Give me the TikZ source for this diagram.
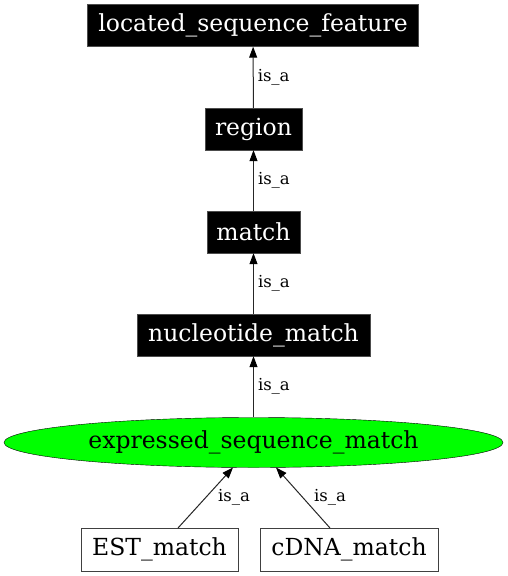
\documentclass[tikz,border=0pt]{standalone}
\usepackage{fontspec}
\setmainfont{DejaVu Serif}
\usetikzlibrary{shapes.geometric,arrows.meta}
\begin{document}
\begin{tikzpicture}[x=1pt,y=-1pt,
  blackbox/.style={rectangle,fill=black,draw=black!70,text=white,inner sep=0pt,minimum height=42pt,font=\fontsize{23.5}{26}\selectfont},
  whitebox/.style={rectangle,fill=white,draw=black!75,text=black,inner sep=0pt,minimum height=43pt,font=\fontsize{23.5}{26}\selectfont},
  greenell/.style={ellipse,fill=green,draw=black,inner sep=0pt,minimum width=499pt,minimum height=50pt,font=\fontsize{23.5}{26}\selectfont},
  isa/.style={draw=black!85,line width=1pt,-{Triangle[length=11pt,width=8pt,fill=black,color=black]}},
  lbl/.style={font=\fontsize{16.5}{19}\selectfont,inner sep=0pt}]
\useasboundingbox (0,0) rectangle (508,576);
\node[blackbox,minimum width=331pt] (lsf) at (253,25.5) {located\_sequence\_feature};
\node[blackbox,minimum width=97pt] (region) at (253.5,129) {region};
\node[blackbox,minimum width=93pt] (match) at (253.5,232) {match};
\node[blackbox,minimum width=233pt] (nm) at (253.5,335) {nucleotide\_match};
\node[greenell] (esm) at (253.5,442.5) {expressed\_sequence\_match};
\node[whitebox,minimum width=157pt] (est) at (159.5,549.5) {EST\_match};
\node[whitebox,minimum width=178pt] (cdna) at (349,549.5) {cDNA\_match};
\draw[isa] (region) -- (lsf) node[lbl,midway,right=4pt] {is\_a};
\draw[isa] (match) -- (region) node[lbl,midway,right=4pt] {is\_a};
\draw[isa] (nm) -- (match) node[lbl,midway,right=4pt] {is\_a};
\draw[isa] (esm) -- (nm) node[lbl,midway,right=4pt] {is\_a};
\coordinate (e1) at (233,467.5);
\coordinate (e2) at (276,467.5);
\draw[isa] (178,528) -- (e1);
\draw[isa] (330,528) -- (e2);
\node[lbl] (l1) at (234,497) {is\_a};
\node[lbl] (l2) at (330,497) {is\_a};
\end{tikzpicture}
\end{document}
